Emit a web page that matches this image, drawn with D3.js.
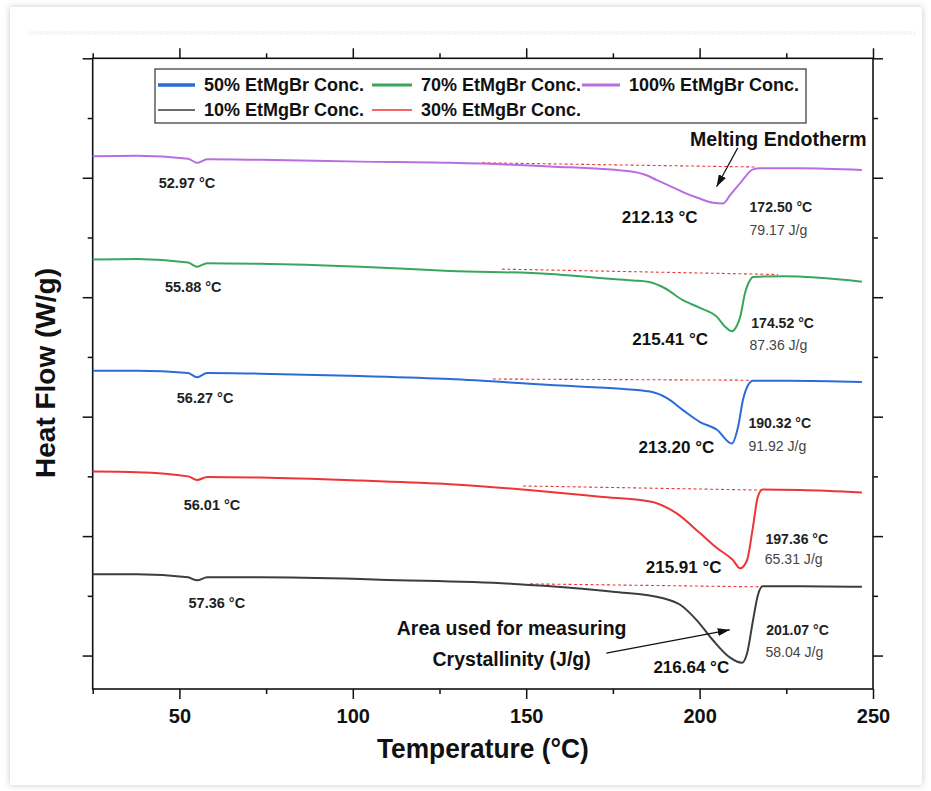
<!DOCTYPE html>
<html>
<head>
<meta charset="utf-8">
<script src="https://cdn.jsdelivr.net/npm/d3@7/dist/d3.min.js"></script>
<style>
  html, body { margin: 0; padding: 0; background: #ffffff; }
  svg { display: block; }
  text { font-family: "Liberation Sans", Arial, Helvetica, sans-serif; }
</style>
</head>
<body>
<svg id="chart" width="931" height="791"></svg>
<script>
// ---------------- DATA ----------------
// Temperature (°C), heat flow (W/g, offset/stacked)
const curve10 = [[25.0,1.36],[37.8,1.36],[52.5,1.31],[55.1,1.26],[58.0,1.31],[73.3,1.31],[102.1,1.28],[107.8,1.27],[146.6,1.20],[175.0,1.07],[189.5,0.96],[194.4,0.85],[199.2,0.59],[203.8,0.26],[208.7,-0.03],[212.2,-0.12],[213.7,0.04],[215.4,0.59],[216.8,1.01],[218.2,1.16],[229.0,1.16],[246.8,1.15]];
const curve30 = [[25.0,3.08],[37.8,3.07],[52.5,3.00],[55.1,2.94],[58.0,2.99],[73.3,2.98],[102.1,2.93],[128.0,2.87],[156.9,2.74],[171.3,2.66],[185.7,2.58],[193.4,2.38],[200.1,2.05],[205.0,1.80],[209.6,1.60],[211.7,1.46],[213.7,1.60],[215.4,2.16],[216.8,2.66],[218.2,2.78],[229.0,2.77],[246.8,2.73]];
const curve50 = [[25.0,4.77],[37.8,4.77],[52.5,4.73],[55.1,4.66],[58.0,4.73],[73.3,4.72],[102.1,4.68],[128.0,4.63],[156.9,4.53],[176.2,4.47],[185.7,4.42],[190.6,4.31],[195.2,4.11],[200.1,3.91],[205.0,3.78],[209.3,3.55],[211.1,3.83],[212.5,4.28],[214.0,4.53],[215.4,4.60],[226.1,4.60],[246.8,4.58]];
const curve70 = [[25.0,6.63],[37.8,6.64],[52.5,6.58],[55.1,6.51],[58.0,6.57],[73.3,6.56],[102.1,6.51],[128.0,6.44],[156.9,6.39],[171.3,6.32],[180.8,6.28],[185.7,6.25],[190.0,6.15],[195.2,5.95],[200.1,5.82],[205.0,5.67],[207.3,5.51],[209.3,5.43],[210.8,5.53],[211.7,5.67],[213.1,6.07],[214.6,6.29],[215.4,6.34],[224.1,6.35],[246.8,6.26]];
const curve100 = [[25.0,8.36],[37.8,8.37],[52.5,8.32],[55.1,8.25],[58.0,8.31],[73.3,8.30],[102.1,8.27],[128.0,8.25],[156.9,8.19],[180.8,8.10],[184.3,8.05],[187.7,7.96],[191.5,7.86],[195.2,7.76],[199.6,7.66],[203.9,7.58],[206.8,7.57],[208.8,7.71],[211.7,7.91],[215.4,8.14],[217.5,8.16],[229.0,8.16],[246.8,8.13]];

// dashed integration baselines [start, end]
const base10 = [[151.1,1.20],[217.5,1.15]];
const base30 = [[149.1,2.84],[218.0,2.77]];
const base50 = [[140.4,4.63],[214.5,4.61]];
const base70 = [[143.0,6.47],[222.6,6.38]];
const base100 = [[137.3,8.25],[216.0,8.18]];

// labels
const seriesNames = ["10% EtMgBr Conc.","30% EtMgBr Conc.","50% EtMgBr Conc.","70% EtMgBr Conc.","100% EtMgBr Conc."];
const glassLabels = ["57.36 °C","56.01 °C","56.27 °C","55.88 °C","52.97 °C"];
const peakLabels = ["216.64 °C","215.91 °C","213.20 °C","215.41 °C","212.13 °C"];
const onsetLabels = ["201.07 °C","197.36 °C","190.32 °C","174.52 °C","172.50 °C"];
const enthalpyLabels = ["58.04 J/g","65.31 J/g","91.92 J/g","87.36 J/g","79.17 J/g"];
const xMajorTicks = [50,100,150,200,250];
const xMinorTicks = [25,75,125,175,225];
const yMajorTicks = [0,2,4,6,8,10];
const yMinorTicks = [1,3,5,7,9];
const xTitle = "Temperature (°C)";
const yTitle = "Heat Flow (W/g)";

// annotation anchor positions (data coordinates)
const glassPos = [[60.8,0.88],[59.4,2.52],[57.4,4.31],[54.0,6.17],[52.2,7.91]];
const peakPos = [[197.6,-0.20],[195.4,1.48],[193.3,3.49],[191.5,5.30],[188.5,7.34]];
const onsetPos = [[219.2,0.43],[219.0,1.95],[214.1,3.89],[214.9,5.57],[214.4,7.51]];
const enthalpyPos = [[219.0,0.06],[218.8,1.61],[214.1,3.51],[214.4,5.20],[214.4,7.13]];

// ---------------- STYLE / LAYOUT ----------------
const colors = ["#3d3d3d","#ee3535","#2b6bd8","#38a75c","#b86ee2"];
const svg = d3.select("#chart");
const L = 92.7, R = 873, T = 58.3, B = 689;

const x = d3.scaleLinear().domain([25,250]).range([L,R]);
const y = d3.scaleLinear().domain([-0.56,10]).range([B,T]);

// card
const defs = svg.append("defs");
const f = defs.append("filter").attr("id","sh").attr("x","-5%").attr("y","-5%").attr("width","110%").attr("height","110%");
f.append("feDropShadow").attr("dx",0).attr("dy",0).attr("stdDeviation",3).attr("flood-color","#000").attr("flood-opacity",0.22);
svg.append("rect").attr("x",10).attr("y",7).attr("width",912).attr("height",778)
  .attr("fill","#fff").attr("filter","url(#sh)");
svg.append("line").attr("x1",28).attr("x2",915).attr("y1",33).attr("y2",33)
  .attr("stroke","#f4f4f4").attr("stroke-width",4).attr("stroke-dasharray","2,1");

// arrow marker
defs.append("marker").attr("id","arr").attr("viewBox","0 0 12 8").attr("refX",12).attr("refY",4)
  .attr("markerWidth",12).attr("markerHeight",8).attr("markerUnits","userSpaceOnUse").attr("orient","auto")
  .append("path").attr("d","M0,0 L12,4 L0,8 Z").attr("fill","#111");

// axes
function styleAxis(g){
  g.select(".domain").remove();
  g.selectAll(".tick line").attr("stroke","#111").attr("stroke-width",1.5);
}
const axB = svg.append("g").attr("transform",`translate(0,${B})`)
  .call(d3.axisBottom(x).tickValues(xMajorTicks).tickSize(10).tickPadding(10).tickFormat(d3.format("d")));
styleAxis(axB);
axB.selectAll("text").attr("font-size",20).attr("font-weight","bold").attr("fill","#111")
  .attr("font-family","Liberation Sans, Arial, sans-serif");
styleAxis(svg.append("g").attr("transform",`translate(0,${B})`)
  .call(d3.axisBottom(x).tickValues(xMinorTicks).tickSize(5).tickFormat("")));
styleAxis(svg.append("g").attr("transform",`translate(0,${T})`)
  .call(d3.axisTop(x).tickValues(xMajorTicks).tickSize(10).tickFormat("")));
styleAxis(svg.append("g").attr("transform",`translate(0,${T})`)
  .call(d3.axisTop(x).tickValues(xMinorTicks).tickSize(5).tickFormat("")));
styleAxis(svg.append("g").attr("transform",`translate(${L},0)`)
  .call(d3.axisLeft(y).tickValues(yMajorTicks).tickSize(10).tickFormat("")));
styleAxis(svg.append("g").attr("transform",`translate(${L},0)`)
  .call(d3.axisLeft(y).tickValues(yMinorTicks).tickSize(5).tickFormat("")));
styleAxis(svg.append("g").attr("transform",`translate(${R},0)`)
  .call(d3.axisRight(y).tickValues(yMajorTicks).tickSize(10).tickFormat("")));
styleAxis(svg.append("g").attr("transform",`translate(${R},0)`)
  .call(d3.axisRight(y).tickValues(yMinorTicks).tickSize(5).tickFormat("")));
svg.append("rect").attr("x",L).attr("y",T).attr("width",R-L).attr("height",B-T)
  .attr("fill","none").attr("stroke","#111").attr("stroke-width",1.6);

// titles
svg.append("text").attr("transform",`translate(${(L+R)/2},758) scale(0.94,1)`)
  .attr("text-anchor","middle").attr("font-size",28).attr("font-weight","bold").attr("fill","#111").text(xTitle);
svg.append("text").attr("transform",`translate(55,373) rotate(-90)`)
  .attr("text-anchor","middle").attr("font-size",28).attr("font-weight","bold").attr("fill","#111").text(yTitle);

// baselines & curves
const curves = [curve10,curve30,curve50,curve70,curve100];
const bases = [base10,base30,base50,base70,base100];
const line = d3.line().x(d=>x(d[0])).y(d=>y(d[1])).curve(d3.curveMonotoneX);
const plot = svg.append("g");
bases.forEach(b=>{
  plot.append("path").attr("d",d3.line().x(d=>x(d[0])).y(d=>y(d[1]))(b))
    .attr("fill","none").attr("stroke","#e83a3a").attr("stroke-width",1.1).attr("stroke-dasharray","3,2.5");
});
curves.forEach((c,i)=>{
  plot.append("path").attr("d",line(c)).attr("fill","none").attr("stroke",colors[i])
    .attr("stroke-width",2).attr("stroke-linejoin","round");
});

// annotations
function txt(px,py,str,size,weight,fill,anchor,sx){
  svg.append("text").attr("transform",`translate(${px},${py}) scale(${sx||1},1)`)
    .attr("text-anchor",anchor).attr("dy","0.35em").attr("font-size",size)
    .attr("font-weight",weight).attr("fill",fill).text(str);
}
glassLabels.forEach((s,i)=>txt(x(glassPos[i][0]),y(glassPos[i][1]),s,14.5,"bold","#222","middle",1));
peakLabels.forEach((s,i)=>txt(x(peakPos[i][0]),y(peakPos[i][1]),s,17,"bold","#111","middle",1));
onsetLabels.forEach((s,i)=>txt(x(onsetPos[i][0]),y(onsetPos[i][1]),s,14.5,"bold","#222","start",0.97));
enthalpyLabels.forEach((s,i)=>txt(x(enthalpyPos[i][0]),y(enthalpyPos[i][1]),s,14.5,"normal","#444","start",0.97));

txt(x(222.7),y(8.65),"Melting Endotherm",19.5,"bold","#111","middle",1);
txt(x(145.8),y(0.46),"Area used for measuring",19.5,"bold","#111","middle",1);
txt(x(145.8),y(-0.06),"Crystallinity (J/g)",19.5,"bold","#111","middle",1);
svg.append("line").attr("x1",x(211.0)).attr("y1",y(8.50)).attr("x2",x(204.9)).attr("y2",y(7.85))
  .attr("stroke","#111").attr("stroke-width",1.2).attr("marker-end","url(#arr)");
svg.append("line").attr("x1",x(173.1)).attr("y1",y(0.04)).attr("x2",x(208.7)).attr("y2",y(0.43))
  .attr("stroke","#111").attr("stroke-width",1.2).attr("marker-end","url(#arr)");

// legend
const lg = svg.append("g");
lg.append("rect").attr("x",155).attr("y",69).attr("width",651).attr("height",54)
  .attr("fill","#fff").attr("stroke","#333").attr("stroke-width",1.2);
const legendItems = [
  {i:2, lx:158, ly:85, w:3.5, len:37},
  {i:3, lx:372, ly:85, w:3, len:40},
  {i:4, lx:582, ly:85, w:3, len:38},
  {i:0, lx:158, ly:110, w:1.5, len:37},
  {i:1, lx:372, ly:110, w:1.5, len:40}
];
legendItems.forEach(it=>{
  lg.append("line").attr("x1",it.lx).attr("x2",it.lx+it.len).attr("y1",it.ly).attr("y2",it.ly)
    .attr("stroke",colors[it.i]).attr("stroke-width",it.w);
  lg.append("text").attr("x",it.lx+it.len+9).attr("y",it.ly).attr("dy","0.35em")
    .attr("font-size",18).attr("font-weight","bold").attr("fill","#111").text(seriesNames[it.i]);
});
</script>
</body>
</html>
